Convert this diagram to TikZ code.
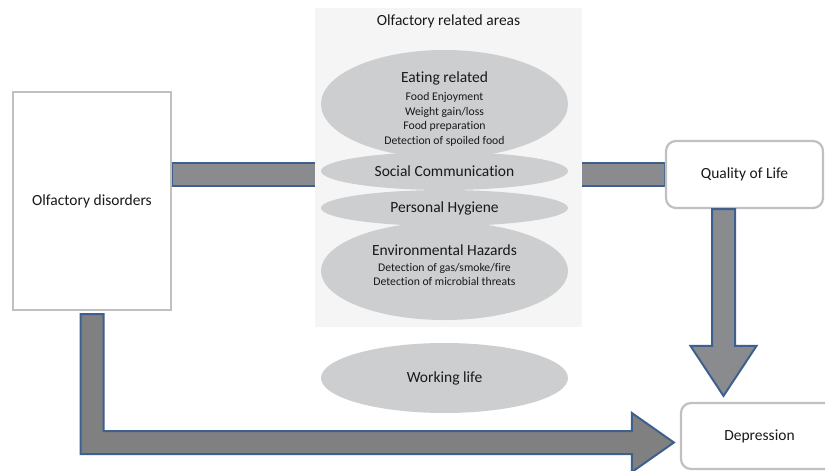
\documentclass[tikz,border=0pt]{standalone}
\usepackage{fontspec}
\setmainfont{Carlito}[Ligatures=NoCommon]
\usetikzlibrary{calc}
\usetikzlibrary{positioning}
\usetikzlibrary{shapes.geometric}
\usetikzlibrary{backgrounds}
\definecolor{arrowblue}{RGB}{62,96,142}
\definecolor{arrowgray}{RGB}{138,139,143}
\definecolor{areagray}{RGB}{205,206,208}
\definecolor{panelgray}{RGB}{245,245,245}
\definecolor{boxgray}{RGB}{192,192,192}
\definecolor{textgray}{RGB}{25,25,25}
\newcommand{\bigtxt}{\fontsize{15.5}{18}\selectfont}
\newcommand{\smalltxt}{\fontsize{11.7}{14.5}\selectfont}
\tikzset{
  area/.style={ellipse, fill=areagray, minimum width=247pt, inner sep=0pt,
    text=textgray, font=\bigtxt},
  arealabel/.style={align=center, text=textgray, font=\bigtxt, inner sep=0pt},
  outcome/.style={draw=boxgray, line width=2.2pt, rounded corners=10pt, fill=white,
    minimum width=157pt, text=textgray, font=\bigtxt},
  blockarrow/.style={fill=#1, draw=arrowblue, line width=2pt, line join=miter},
  blockarrow/.default=arrowgray
}

\begin{document}
\begin{tikzpicture}[x=1pt, y=-1pt]
  \useasboundingbox (0,0) rectangle (825,471);

  % boxes
  \node [draw=boxgray, line width=2pt, fill=white, minimum width=158pt, minimum height=218pt,
    text=textgray, font=\bigtxt] (dis) at (92,201) {Olfactory disorders};
  \node [outcome, minimum height=67pt] (qol) at (744.5,174.5) {Quality of Life};
  \node [outcome, minimum height=66pt] (dep) at (759.5,436) {Depression};

  % bar and panel behind everything
  \begin{scope}[on background layer]
    \filldraw [blockarrow] ($(dis.east |- qol.west)+(0,-11.5)$) rectangle ($(qol.west)+(0,11.5)$);
    \node [fill=panelgray, minimum width=267pt, minimum height=319pt, inner sep=0pt] (panel) at (448.5,167.5) {};
  \end{scope}
  \node [arealabel, below=7pt of panel.north] (paneltitle) {Olfactory related areas};

  % olfactory related areas
  \node [area, minimum height=108pt] (eat) at (444.5,104) {};
  \node [area, minimum height=38pt] (soc) at (444.5,171) {Social Communication};
  \node [area, minimum height=36pt] (hyg) at (444.5,208) {Personal Hygiene};
  \node [area, minimum height=98pt] (env) at (444.5,271) {};
  \node [area, minimum height=70pt] (work) at (444.5,378) {Working life};

  \node [arealabel, font=\smalltxt] (eatlbl) at ($(eat)+(0,5)$) {\bigtxt Eating related\\[4pt]Food Enjoyment\\Weight gain/loss\\Food preparation\\Detection of spoiled food};
  \node [arealabel, font=\smalltxt] (envlbl) at ($(env)+(0,-5.5)$) {\bigtxt Environmental Hazards\\[1pt]Detection of gas/smoke/fire\\Detection of microbial threats};

  % quality of life -> depression
  \coordinate (qs) at ($(qol.south)+(-21,0)$);
  \coordinate (qtip) at ($(qs |- dep.north)+(0,-6)$);
  \filldraw [blockarrow] ($(qs)+(-11.5,0)$) -- ($(qtip)+(-11.5,-50)$) -- ($(qtip)+(-33,-50)$) -- (qtip)
    -- ($(qtip)+(33,-50)$) -- ($(qtip)+(11.5,-50)$) -- ($(qs)+(11.5,0)$) -- cycle;

  % olfactory disorders -> depression
  \coordinate (ls) at ($(dis.south)+(0,3)$);
  \coordinate (ltip) at ($(dep.west)+(-6,6.5)$);
  \coordinate (lc) at (ls |- ltip);
  \filldraw [blockarrow=gray] ($(ls)+(-11.5,0)$) -- ($(lc)+(-11.5,11.5)$) -- ($(ltip)+(-42,11.5)$)
    -- ($(ltip)+(-42,29.5)$) -- (ltip) -- ($(ltip)+(-42,-29.5)$) -- ($(ltip)+(-42,-11.5)$)
    -- ($(lc)+(11.5,-11.5)$) -- ($(ls)+(11.5,0)$) -- cycle;

\end{tikzpicture}
\end{document}
